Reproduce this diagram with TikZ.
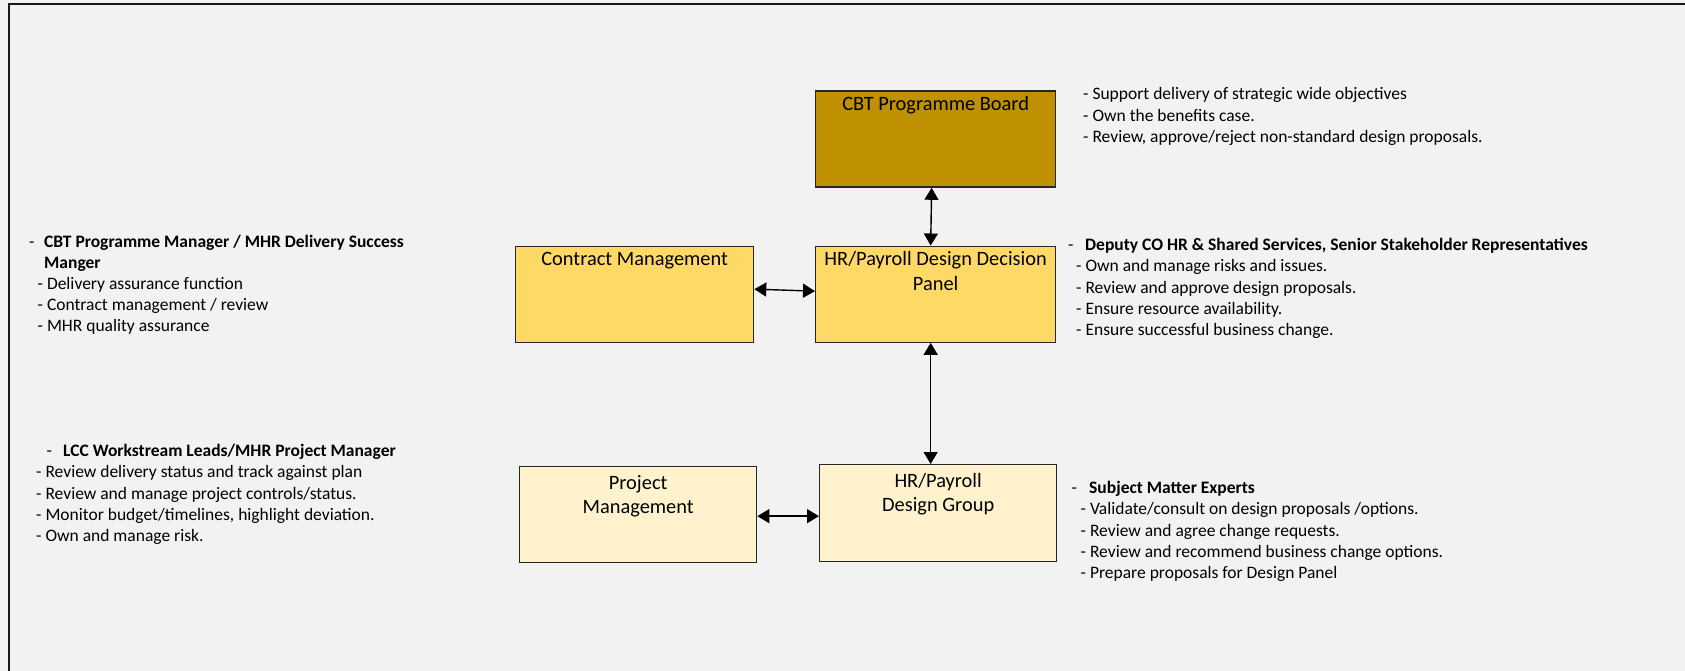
\documentclass[tikz,border=0pt]{standalone}
\usepackage{fontspec}
\setmainfont{Carlito}
\usetikzlibrary{arrows.meta,calc}
\definecolor{bg}{HTML}{F2F2F2}
\definecolor{boardfill}{HTML}{BF9000}
\definecolor{panelfill}{HTML}{FFD966}
\definecolor{groupfill}{HTML}{FFF2CC}
\definecolor{edge}{HTML}{262626}
\newcommand\notelines[1]{\begin{tabular}[t]{@{}l@{}}#1\end{tabular}}
\newcommand\boxlines[1]{\begin{tabular}[t]{@{}c@{}}#1\end{tabular}}

\begin{document}
\begin{tikzpicture}[x=1pt,y=-1pt,
  box/.style={draw=edge, line width=1.3pt, inner sep=0pt, anchor=north west,
              minimum width=240pt, minimum height=96pt},
  boxlabel/.style={anchor=base, inner sep=0pt, font=\fontsize{20.4}{24.6}\selectfont},
  notes/.style={anchor=base west, inner sep=0pt, font=\fontsize{17.5}{21.2}\selectfont},
  link/.style={line width=1.4pt, {Triangle[width=14pt,length=12pt]}-{Triangle[width=14pt,length=12pt]}}]

\useasboundingbox (0,0) rectangle (1685,671);
\fill[bg] (0,0) rectangle (1685,671);
\draw[line width=2.5pt, color=black!90] (9,672) -- (9,4) -- (1686,4);

% boxes
\node[box, fill=boardfill] (board) at (815,90.5) {};
\node[box, fill=panelfill, minimum width=238pt] (contract) at (515,245.5) {};
\node[box, fill=panelfill] (panel) at (815,245.5) {};
\node[box, fill=groupfill, minimum width=237pt] (project) at (519,466) {};
\node[box, fill=groupfill, minimum width=237pt, minimum height=97pt] (group) at (819,464) {};

% box titles
\node[boxlabel] (board-t) at ($(board.north)+(0,20.5)$) {\boxlines{CBT Programme Board}};
\node[boxlabel] (contract-t) at ($(contract.north)+(0,20)$) {\boxlines{Contract Management}};
\node[boxlabel] (panel-t) at ($(panel.north)+(0,20)$) {\boxlines{HR/Payroll Design Decision\\Panel}};
\node[boxlabel] (project-t) at ($(project.north)+(0,23)$) {\boxlines{Project\\Management}};
\node[boxlabel] (group-t) at ($(group.north)+(0,23)$) {\boxlines{HR/Payroll\\Design Group}};

% connectors
\draw[link] ([xshift=-4pt]board.south) -- ([xshift=-5pt]panel.north);
\draw[link] ([yshift=5pt]contract.east) -- ([yshift=3pt]panel.west);
\draw[link] ([xshift=-5pt]panel.south) -- ([xshift=-7.5pt]group.north);
\draw[link] ([yshift=-1.5pt]project.east) -- ([yshift=-3pt]group.west);

% board duties
\node[notes] (board-n) at (1083,100) {\notelines{- Support delivery of strategic wide objectives\\
  - Own the benefits case.\\
  - Review, approve/reject non-standard design proposals.}};

% panel duties
\node[notes] (panel-d) at (1068,250.5) {-};
\node[notes] (panel-h) at (1085,250.5) {\bfseries Deputy CO HR \& Shared Services, Senior Stakeholder Representatives};
\node[notes] (panel-n) at (1076,271.8) {\notelines{- Own and manage risks and issues.\\
  - Review and approve design proposals.\\
  - Ensure resource availability.\\
  - Ensure successful business change.}};

% contract duties
\node[notes] (contract-d) at (29,247.7) {-};
\node[notes] (contract-h) at (44,247.7) {\notelines{\bfseries CBT Programme Manager / MHR Delivery Success\\
  \bfseries Manger}};
\node[notes] (contract-n) at (37.5,289.5) {\notelines{- Delivery assurance function\\
  - Contract management / review\\
  - MHR quality assurance}};

% project duties
\node[notes] (project-d) at (46.5,456.7) {-};
\node[notes] (project-h) at (63,456.7) {\bfseries LCC Workstream Leads/MHR Project Manager};
\node[notes] (project-n) at (36,477.8) {\notelines{- Review delivery status and track against plan\\
  - Review and manage project controls/status.\\
  - Monitor budget/timelines, highlight deviation.\\
  - Own and manage risk.}};

% group duties
\node[notes] (group-d) at (1071.5,493.5) {-};
\node[notes] (group-h) at (1089,493.5) {\bfseries Subject Matter Experts};
\node[notes] (group-n) at (1080.5,514.8) {\notelines{- Validate/consult on design proposals /options.\\
  - Review and agree change requests.\\
  - Review and recommend business change options.\\
  - Prepare proposals for Design Panel}};
\end{tikzpicture}
\end{document}
